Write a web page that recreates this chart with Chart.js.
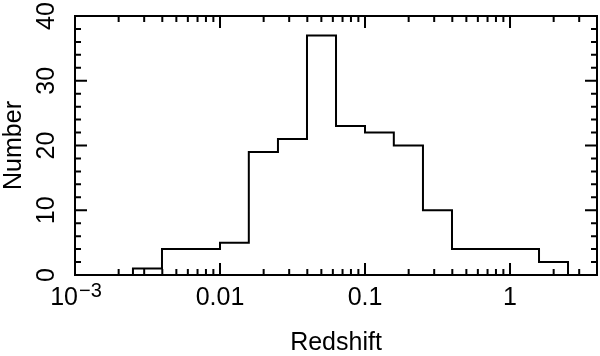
<!DOCTYPE html>
<html>
<head>
<meta charset="utf-8">
<script src="https://cdn.jsdelivr.net/npm/chart.js@4.4.1/dist/chart.umd.min.js"></script>
<style>
  html, body { margin: 0; padding: 0; background: #fff; }
</style>
</head>
<body>
<canvas id="chart" width="600" height="356"></canvas>
<script>
// histogram of redshifts, bins 0.2 dex wide
var binEdges = [0.00251, 0.00398, 0.00631, 0.01, 0.0158, 0.0251, 0.0398, 0.0631,
                0.1, 0.158, 0.251, 0.398, 0.631, 1, 1.585, 2.512];
var counts = [1, 4, 4, 5, 19, 21, 37, 23, 22, 20, 10, 4, 4, 4, 2];

var xMajorTicks = [0.001, 0.01, 0.1, 1];
var xTickLabels = ["", "0.01", "0.1", "1"];
var yMajorTicks = [0, 10, 20, 30, 40];
var yTickLabels = ["0", "10", "20", "30", "40"];

var X_MIN = 0.001, X_MAX = 3.98;
var FONT = "'Liberation Sans', Arial, Helvetica, sans-serif";

// outline of the histogram: up, across, up/down, across ...
var outline = [{ x: binEdges[0], y: 0 }];
for (let i = 0; i < counts.length; i++) {
    outline.push({ x: binEdges[i], y: counts[i] });
    outline.push({ x: binEdges[i + 1], y: counts[i] });
}
outline.push({ x: binEdges[binEdges.length - 1], y: 0 });

// minor ticks 2..9 in each decade, kept inside the axis range
var xTickVals = [];
xMajorTicks.forEach(function (m) {
    for (let k = 1; k <= 9; k++) {
        if (m * k <= X_MAX) xTickVals.push(m * k);
    }
});

var frameTicks = {
    id: "frameTicks",
    afterDraw(chart) {
        const ctx = chart.ctx;
        const a = chart.chartArea;
        const xs = chart.scales.x, ys = chart.scales.y;
        ctx.save();
        ctx.strokeStyle = "#000";
        ctx.lineWidth = 2;
        ctx.strokeRect(a.left, a.top, a.right - a.left, a.bottom - a.top);

        ctx.beginPath();
        xs.ticks.forEach(function (t) {
            if (t.value <= xs.min || t.value >= xs.max) return;
            const px = xs.getPixelForValue(t.value);
            const len = t.major ? 12 : 6;
            ctx.moveTo(px, a.bottom); ctx.lineTo(px, a.bottom - len);
            ctx.moveTo(px, a.top); ctx.lineTo(px, a.top + len);
        });
        ys.ticks.forEach(function (t) {
            if (t.value <= ys.min || t.value >= ys.max) return;
            const py = ys.getPixelForValue(t.value);
            const len = (t.value % 10 === 0) ? 12 : 6;
            ctx.moveTo(a.left, py); ctx.lineTo(a.left + len, py);
            ctx.moveTo(a.right, py); ctx.lineTo(a.right - len, py);
        });
        ctx.stroke();

        // rotated y tick labels
        ctx.fillStyle = "#000";
        ctx.font = "25px " + FONT;
        ctx.textAlign = "center";
        ctx.textBaseline = "middle";
        yMajorTicks.forEach(function (v, i) {
            const py = ys.getPixelForValue(v);
            ctx.save();
            ctx.translate(47, py);
            ctx.rotate(-Math.PI / 2);
            ctx.fillText(yTickLabels[i], 0, 0);
            ctx.restore();
        });

        // 10^-3 label with superscript
        const p0 = xs.getPixelForValue(0.001);
        ctx.textBaseline = "alphabetic";
        ctx.textAlign = "right";
        ctx.fillText("10", p0 + 3, 305);
        ctx.font = "20px " + FONT;
        ctx.textAlign = "left";
        ctx.fillText("\u22123", p0 + 4, 297);
        ctx.restore();
    }
};

new Chart(document.getElementById("chart"), {
    type: "scatter",
    data: {
        datasets: [{
            data: outline,
            showLine: true,
            borderColor: "#000",
            borderWidth: 2,
            pointRadius: 0,
            fill: false,
            tension: 0
        }]
    },
    options: {
        responsive: false,
        animation: false,
        devicePixelRatio: 1,
        layout: { padding: { left: 2, right: 3, top: 16, bottom: 0 } },
        plugins: { legend: { display: false }, tooltip: { enabled: false } },
        scales: {
            x: {
                type: "logarithmic",
                min: X_MIN,
                max: X_MAX,
                afterBuildTicks: function (s) {
                    s.ticks = xTickVals.map(function (v) {
                        return { value: v, major: xMajorTicks.indexOf(v) >= 0 };
                    });
                },
                afterFit: function (s) {
                    s.height = 81;
                    s.paddingLeft = 0;
                    s.paddingRight = 0;
                },
                grid: { display: false, drawTicks: false },
                border: { display: false },
                ticks: {
                    autoSkip: false,
                    maxRotation: 0,
                    minRotation: 0,
                    padding: 8,
                    color: "#000",
                    font: { family: FONT, size: 25 },
                    callback: function (value) {
                        const i = xMajorTicks.indexOf(value);
                        return i >= 0 ? xTickLabels[i] : "";
                    }
                },
                title: {
                    display: true,
                    text: "Redshift",
                    color: "#000",
                    font: { family: FONT, size: 25, lineHeight: 1 },
                    padding: { top: 0, bottom: 0 }
                }
            },
            y: {
                min: 0,
                max: 40,
                afterFit: function (s) {
                    s.width = 73;
                    s.paddingTop = 0;
                    s.paddingBottom = 0;
                },
                grid: { display: false, drawTicks: false },
                border: { display: false },
                ticks: { stepSize: 2, display: false },
                title: {
                    display: true,
                    text: "Number",
                    color: "#000",
                    font: { family: FONT, size: 25, lineHeight: 1 },
                    padding: { top: 0, bottom: 0 }
                }
            }
        }
    },
    plugins: [frameTicks]
});
</script>
</body>
</html>
